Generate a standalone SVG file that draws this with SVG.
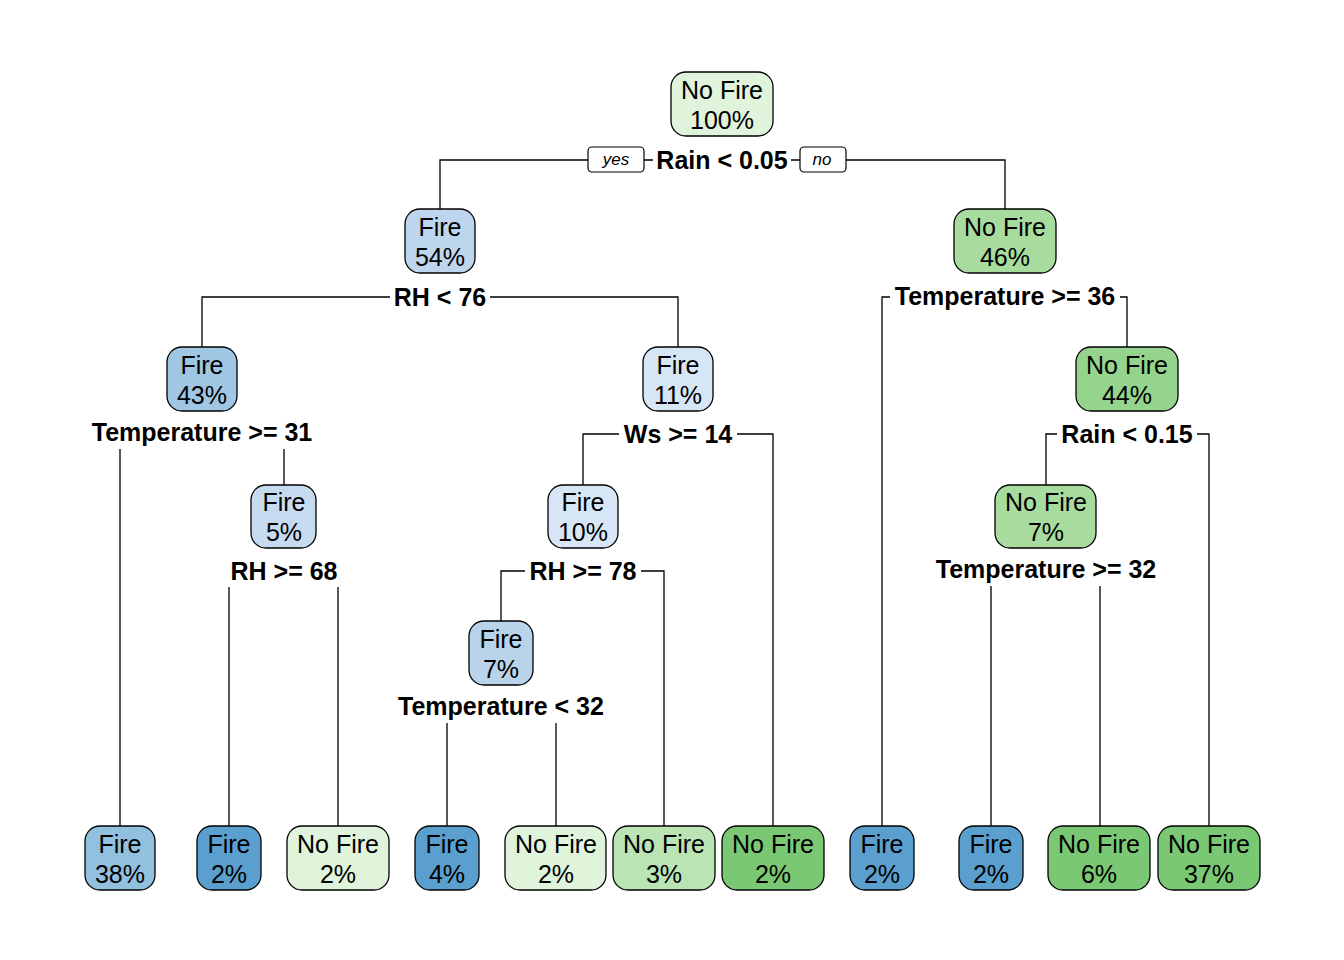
<svg xmlns="http://www.w3.org/2000/svg" width="1344" height="960" viewBox="0 0 1344 960">
<style>
.bg{fill:#ffffff}
.box{stroke:#000;stroke-width:1.3}
.nt{font-family:"Liberation Sans",Arial,sans-serif;font-size:25px;fill:#000;text-anchor:middle}
.sl{font-family:"Liberation Sans",Arial,sans-serif;font-size:25px;font-weight:bold;fill:#000;text-anchor:middle}
.yn{font-family:"Liberation Sans",Arial,sans-serif;font-size:17px;font-style:italic;fill:#000;text-anchor:middle}
.yb{fill:#fff;stroke:#000;stroke-width:1.2}
.cn{fill:none;stroke:#000;stroke-width:1.3}
</style>
<rect class="bg" width="1344" height="960"/>
<g id="connectors" class="cn">
<path d="M440,209 V160 H588 M644,160 H653 M791,160 H800 M846,160 H1005 V209"/>
<path d="M202,347 V297 H390 M490,297 H678 V347"/>
<path d="M882,826 V297 H890 M1120,297 H1127 V347"/>
<path d="M120,449 V826 M284,449 V485"/>
<path d="M583,485 V434 H619 M737,434 H773 V826"/>
<path d="M1046,485 V434 H1057 M1197,434 H1209 V826"/>
<path d="M229,587 V826 M338,587 V826"/>
<path d="M501,621 V571 H525 M641,571 H664 V826"/>
<path d="M991,586 V826 M1100,586 V826"/>
<path d="M447,723 V826 M556,723 V826"/>
</g>
<g id="yes-label"><rect class="yb" x="588" y="147" width="56" height="25" rx="4"/><text class="yn" x="616" y="165">yes</text></g>
<g id="no-label"><rect class="yb" x="800" y="147" width="46" height="25" rx="4"/><text class="yn" x="822" y="165">no</text></g>
<g id="split-labels">
<text class="sl" x="722" y="169">Rain &lt; 0.05</text>
<text class="sl" x="440" y="306">RH &lt; 76</text>
<text class="sl" x="1005" y="305">Temperature &gt;= 36</text>
<text class="sl" x="202" y="441">Temperature &gt;= 31</text>
<text class="sl" x="678" y="443">Ws &gt;= 14</text>
<text class="sl" x="1127" y="443">Rain &lt; 0.15</text>
<text class="sl" x="284" y="580">RH &gt;= 68</text>
<text class="sl" x="583" y="580">RH &gt;= 78</text>
<text class="sl" x="1046" y="578">Temperature &gt;= 32</text>
<text class="sl" x="501" y="715">Temperature &lt; 32</text>
</g>
<g id="n1"><rect class="box" x="671" y="72" width="102" height="64" rx="15" fill="#e0f3db"/><text class="nt" x="722" y="99">No Fire</text><text class="nt" x="722" y="129">100%</text></g>
<g id="n2"><rect class="box" x="405" y="209" width="70" height="64" rx="15" fill="#bdd6ed"/><text class="nt" x="440" y="236">Fire</text><text class="nt" x="440" y="266">54%</text></g>
<g id="n3"><rect class="box" x="954" y="209" width="102" height="64" rx="15" fill="#a8dc9e"/><text class="nt" x="1005" y="236">No Fire</text><text class="nt" x="1005" y="266">46%</text></g>
<g id="n4"><rect class="box" x="167" y="347" width="70" height="64" rx="15" fill="#9fc6e2"/><text class="nt" x="202" y="374">Fire</text><text class="nt" x="202" y="404">43%</text></g>
<g id="n5"><rect class="box" x="643" y="347" width="70" height="64" rx="15" fill="#d7e6f4"/><text class="nt" x="678" y="374">Fire</text><text class="nt" x="678" y="404">11%</text></g>
<g id="n7"><rect class="box" x="1076" y="347" width="102" height="64" rx="15" fill="#95d48c"/><text class="nt" x="1127" y="374">No Fire</text><text class="nt" x="1127" y="404">44%</text></g>
<g id="n9"><rect class="box" x="251" y="485" width="65" height="63" rx="15" fill="#c6dbef"/><text class="nt" x="284" y="511">Fire</text><text class="nt" x="284" y="541">5%</text></g>
<g id="n10"><rect class="box" x="548" y="485" width="70" height="63" rx="15" fill="#d7e6f4"/><text class="nt" x="583" y="511">Fire</text><text class="nt" x="583" y="541">10%</text></g>
<g id="n14"><rect class="box" x="995" y="485" width="101" height="63" rx="15" fill="#a8dc9e"/><text class="nt" x="1046" y="511">No Fire</text><text class="nt" x="1046" y="541">7%</text></g>
<g id="n20"><rect class="box" x="469" y="621" width="64" height="64" rx="15" fill="#b9d3eb"/><text class="nt" x="501" y="648">Fire</text><text class="nt" x="501" y="678">7%</text></g>
<g id="leaf1"><rect class="box" x="85" y="826" width="70" height="64" rx="15" fill="#92c0df"/><text class="nt" x="120" y="853">Fire</text><text class="nt" x="120" y="883">38%</text></g>
<g id="leaf2"><rect class="box" x="197" y="826" width="64" height="64" rx="15" fill="#5a9fcd"/><text class="nt" x="229" y="853">Fire</text><text class="nt" x="229" y="883">2%</text></g>
<g id="leaf3"><rect class="box" x="287" y="826" width="102" height="64" rx="15" fill="#e0f3db"/><text class="nt" x="338" y="853">No Fire</text><text class="nt" x="338" y="883">2%</text></g>
<g id="leaf4"><rect class="box" x="415" y="826" width="64" height="64" rx="15" fill="#5a9fcd"/><text class="nt" x="447" y="853">Fire</text><text class="nt" x="447" y="883">4%</text></g>
<g id="leaf5"><rect class="box" x="505" y="826" width="101" height="64" rx="15" fill="#e0f3db"/><text class="nt" x="556" y="853">No Fire</text><text class="nt" x="556" y="883">2%</text></g>
<g id="leaf6"><rect class="box" x="613" y="826" width="102" height="64" rx="15" fill="#bae4b3"/><text class="nt" x="664" y="853">No Fire</text><text class="nt" x="664" y="883">3%</text></g>
<g id="leaf7"><rect class="box" x="722" y="826" width="102" height="64" rx="15" fill="#7bc874"/><text class="nt" x="773" y="853">No Fire</text><text class="nt" x="773" y="883">2%</text></g>
<g id="leaf8"><rect class="box" x="850" y="826" width="64" height="64" rx="15" fill="#5a9fcd"/><text class="nt" x="882" y="853">Fire</text><text class="nt" x="882" y="883">2%</text></g>
<g id="leaf9"><rect class="box" x="959" y="826" width="64" height="64" rx="15" fill="#5a9fcd"/><text class="nt" x="991" y="853">Fire</text><text class="nt" x="991" y="883">2%</text></g>
<g id="leaf10"><rect class="box" x="1048" y="826" width="102" height="64" rx="15" fill="#7bc874"/><text class="nt" x="1099" y="853">No Fire</text><text class="nt" x="1099" y="883">6%</text></g>
<g id="leaf11"><rect class="box" x="1158" y="826" width="102" height="64" rx="15" fill="#7bc874"/><text class="nt" x="1209" y="853">No Fire</text><text class="nt" x="1209" y="883">37%</text></g>
</svg>
